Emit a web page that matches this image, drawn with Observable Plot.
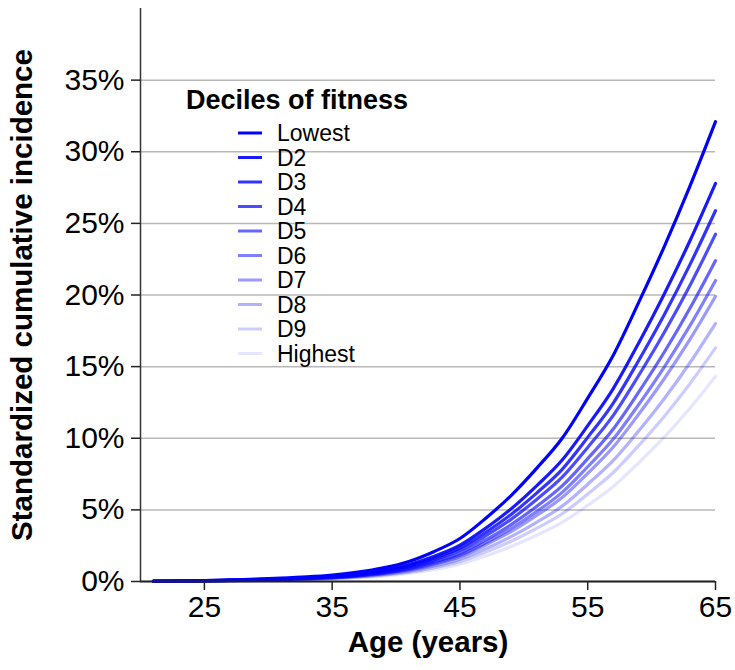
<!DOCTYPE html>
<html>
<head>
<meta charset="utf-8">
<script src="https://cdn.jsdelivr.net/npm/d3@7"></script>
<script src="https://cdn.jsdelivr.net/npm/@observablehq/plot@0.6"></script>
<style>
  body { margin: 0; background: #fff; }
  #wrap { position: relative; width: 735px; height: 670px; font-family: "Liberation Sans", Arial, sans-serif; }
</style>
</head>
<body>
<div id="wrap"></div>
<script>
// Ages (years)
const ages = [21,23,25,27,29,31,33,35,37,39,41,43,45,47,49,51,53,55,57,59,61,63,65];
// Standardized cumulative incidence (%) per decile of fitness
const lowest  = [0.02,0.04,0.07,0.11,0.16,0.23,0.32,0.45,0.65,0.95,1.40,2.10,3.00,4.40,6.00,7.90,10.00,12.80,15.80,19.50,23.40,27.60,32.10];
const d2      = [0.02,0.03,0.06,0.09,0.13,0.19,0.27,0.38,0.55,0.80,1.18,1.76,2.53,3.71,5.07,6.68,8.48,10.88,13.47,16.67,20.09,23.79,27.79];
const d3      = [0.015,0.031,0.054,0.085,0.124,0.178,0.248,0.348,0.503,0.74,1.09,1.63,2.33,3.42,4.68,6.17,7.83,10.06,12.46,15.45,18.64,22.12,25.89];
const d4      = [0.014,0.029,0.050,0.079,0.115,0.165,0.229,0.323,0.466,0.68,1.01,1.51,2.17,3.18,4.34,5.73,7.28,9.36,11.60,14.40,17.40,20.67,24.24];
const d5      = [0.013,0.026,0.046,0.072,0.105,0.151,0.210,0.295,0.426,0.62,0.92,1.38,1.97,2.90,3.97,5.24,6.67,8.58,10.65,13.24,16.02,19.07,22.40];
const d6      = [0.012,0.024,0.043,0.067,0.097,0.140,0.195,0.274,0.396,0.58,0.86,1.28,1.83,2.70,3.70,4.88,6.22,8.01,9.94,12.37,14.99,17.86,21.01];
const d7      = [0.011,0.023,0.040,0.063,0.092,0.132,0.183,0.258,0.372,0.55,0.80,1.21,1.72,2.55,3.48,4.61,5.86,7.55,9.39,11.69,14.17,16.90,19.90];
const d8      = [0.010,0.021,0.036,0.056,0.082,0.118,0.164,0.231,0.333,0.49,0.72,1.08,1.55,2.28,3.13,4.13,5.26,6.79,8.45,10.53,12.78,15.27,18.01];
const d9      = [0.009,0.018,0.032,0.051,0.074,0.106,0.147,0.207,0.299,0.44,0.65,0.97,1.39,2.05,2.81,3.71,4.73,6.11,7.61,9.50,11.54,13.81,16.31];
const highest = [0.008,0.016,0.028,0.044,0.064,0.092,0.128,0.180,0.259,0.38,0.56,0.84,1.21,1.78,2.44,3.23,4.12,5.32,6.63,8.29,10.09,12.09,14.31];

const seriesNames = ["Lowest","D2","D3","D4","D5","D6","D7","D8","D9","Highest"];
const seriesValues = [lowest,d2,d3,d4,d5,d6,d7,d8,d9,highest];
const seriesOpacity = [1,0.9,0.8,0.7,0.6,0.5,0.4,0.3,0.2,0.1];
const xTicks = [25,35,45,55,65];
const yTicks = [0,0.05,0.10,0.15,0.20,0.25,0.30,0.35];
const legendTitle = "Deciles of fitness";
const xTitle = "Age (years)";
const yTitle = "Standardized cumulative incidence";

const blue = "#0000ff";
const tables = seriesNames.map((name, i) =>
  ages.map((a, j) => ({age: a, value: seriesValues[i][j] / 100, series: name}))
);

const lineMarks = [];
for (let i = seriesNames.length - 1; i >= 0; i--) {
  lineMarks.push(Plot.line(tables[i], {
    x: "age", y: "value", stroke: blue, strokeOpacity: seriesOpacity[i],
    strokeWidth: 3.2, curve: "monotone-x"
  }));
}

const chart = Plot.plot({
  width: 735,
  height: 670,
  marginLeft: 140,
  marginRight: 20,
  marginTop: 8,
  marginBottom: 89,
  style: {fontFamily: "'Liberation Sans', Arial, sans-serif", fontSize: "30px", color: "#000", background: "#fff"},
  x: {domain: [20, 65], label: null},
  y: {domain: [0, 0.4], label: null},
  marks: [
    Plot.gridY(yTicks, {stroke: "#b8b8b8", strokeOpacity: 1, strokeWidth: 1.5}),
    ...lineMarks,
    Plot.ruleX([20], {y1: 0, y2: 0.4, stroke: "#333", strokeWidth: 1.5}),
    Plot.ruleY([0], {stroke: "#222", strokeWidth: 2}),
    Plot.axisY(yTicks, {tickSize: 9, tickPadding: 7, tickFormat: d => Math.round(d * 100) + "%", fontSize: 30, label: null, stroke: "#222", strokeWidth: 1.5}),
    Plot.axisX(xTicks, {tickSize: 9, tickPadding: 5, fontSize: 30, label: null, stroke: "#222", strokeWidth: 1.5}),
    Plot.text([yTitle], {frameAnchor: "left", textAnchor: "middle", dx: -118, rotate: -90, fontSize: 29.5, fontWeight: "bold", fill: "#000"}),
    Plot.text([xTitle], {frameAnchor: "bottom", textAnchor: "middle", dy: 70, fontSize: 29.5, fontWeight: "bold", fill: "#000"})
  ]
});

document.getElementById("wrap").appendChild(chart);

// Legend drawn into the chart's SVG
const NS = "http://www.w3.org/2000/svg";
function el(tag, attrs, parent) {
  const e = document.createElementNS(NS, tag);
  for (const k in attrs) e.setAttribute(k, attrs[k]);
  parent.appendChild(e);
  return e;
}
const lg = el("g", {"font-family": "'Liberation Sans', Arial, sans-serif", "text-anchor": "start"}, chart);
const t0 = el("text", {x: 186, y: 100, dy: "0.35em", "font-size": 27, "font-weight": "bold", fill: "#000", "text-anchor": "start"}, lg);
t0.textContent = legendTitle;
seriesNames.forEach((name, i) => {
  const y = 133 + i * 24.5;
  el("line", {x1: 238, x2: 262, y1: y, y2: y, stroke: blue, "stroke-opacity": seriesOpacity[i], "stroke-width": 3}, lg);
  const t = el("text", {x: 277, y: y, dy: "0.35em", "font-size": 23, fill: "#000", "text-anchor": "start"}, lg);
  t.textContent = name;
});
</script>
</body>
</html>
